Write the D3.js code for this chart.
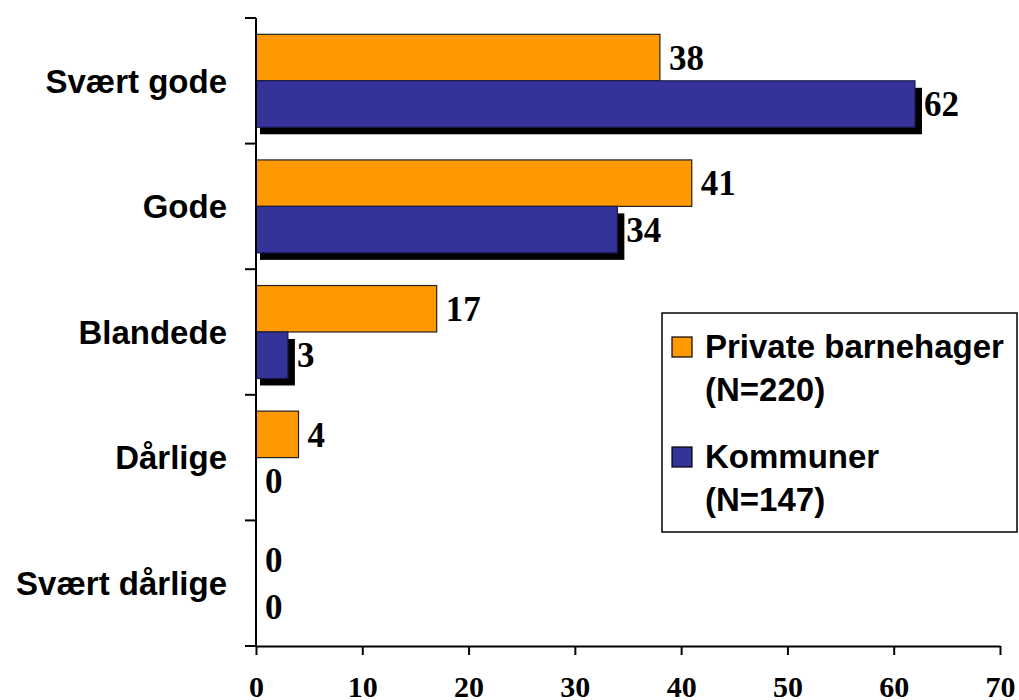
<!DOCTYPE html>
<html>
<head>
<meta charset="utf-8">
<script src="https://cdn.jsdelivr.net/npm/d3@7"></script>
<style>
  body { margin: 0; background: #fff; }
  svg { display: block; }
</style>
</head>
<body>
<div id="chart"></div>
<script>
var categories = ["Svært gode", "Gode", "Blandede", "Dårlige", "Svært dårlige"];
var seriesNames = ["Private barnehager", "Kommuner"];
var seriesN = ["(N=220)", "(N=147)"];
var privateValues = [38, 41, 17, 4, 0];
var kommuneValues = [62, 34, 3, 0, 0];
var xTicks = [0, 10, 20, 30, 40, 50, 60, 70];

var colors = ["#ff9900", "#333399"];
var strokes = ["#222222", "#1a1a4d"];

var svg = d3.select("#chart").append("svg")
			.attr("width", 1019)
			.attr("height", 700);

var x = d3.scaleLinear()
			.domain([0, 70])
			.range([256, 1000]);

var y = d3.scaleBand()
			.domain(categories)
			.range([18, 646])
			.paddingInner(0.26)
			.paddingOuter(0.13);

var ySub = d3.scaleBand()
			.domain([0, 1])
			.range([0, y.bandwidth()]);

var rows = categories.map(function(c, i){
	return { cat: c, values: [privateValues[i], kommuneValues[i]] };
});

// bars
var groups = svg.selectAll("g.row")
			.data(rows)
			.enter().append("g")
			.attr("class", "row")
			.attr("transform", function(d){ return "translate(0," + y(d.cat) + ")"; });

// shadow only on the blue series
groups.filter(function(d){ return d.values[1] > 0; })
	.append("rect")
	.attr("x", x(0) + 4)
	.attr("y", ySub(1) + 7)
	.attr("width", function(d){ return x(d.values[1]) - x(0) + 3; })
	.attr("height", ySub.bandwidth())
	.attr("fill", "#000");

groups.each(function(d){
	var g = d3.select(this);
	d.values.forEach(function(v, s){
		if (v > 0) {
			g.append("rect")
				.attr("x", x(0))
				.attr("y", ySub(s))
				.attr("width", x(v) - x(0))
				.attr("height", ySub.bandwidth())
				.attr("fill", colors[s])
				.attr("stroke", strokes[s])
				.attr("stroke-width", 1.2);
		}
		g.append("text")
			.attr("x", x(v) + 9)
			.attr("y", ySub(s) + ySub.bandwidth() / 2)
			.attr("dy", "0.35em")
			.attr("font-family", "'Liberation Serif', 'Times New Roman', serif")
			.attr("font-weight", "bold")
			.attr("font-size", 35)
			.attr("fill", "#000")
			.text(v);
	});
});

// y axis
svg.append("line")
	.attr("x1", x(0)).attr("x2", x(0))
	.attr("y1", 18).attr("y2", 646)
	.attr("stroke", "#000").attr("stroke-width", 2);

var bounds = categories.map(function(c){ return y(c) - y.step() * y.paddingInner() / 2; });
bounds.push(646);
svg.selectAll("line.ytick")
	.data(bounds)
	.enter().append("line")
	.attr("class", "ytick")
	.attr("x1", x(0) - 11).attr("x2", x(0))
	.attr("y1", function(d){ return d; })
	.attr("y2", function(d){ return d; })
	.attr("stroke", "#000").attr("stroke-width", 2);

svg.selectAll("text.ylab")
	.data(categories)
	.enter().append("text")
	.attr("class", "ylab")
	.attr("x", 227)
	.attr("y", function(d){ return y(d) + y.bandwidth() / 2; })
	.attr("dy", "0.36em")
	.attr("text-anchor", "end")
	.attr("font-family", "'Liberation Sans', Arial, sans-serif")
	.attr("font-weight", "bold")
	.attr("font-size", 33)
	.attr("fill", "#000")
	.text(function(d){ return d; });

// x axis
var xAxis = svg.append("g")
	.attr("transform", "translate(0,646)")
	.call(d3.axisBottom(x).tickValues(xTicks).tickSize(9).tickPadding(21).tickSizeOuter(0));
xAxis.select(".domain").attr("stroke", "#000").attr("stroke-width", 2);
xAxis.selectAll(".tick line").attr("stroke", "#000").attr("stroke-width", 2);
xAxis.selectAll(".tick text")
	.attr("font-family", "'Liberation Serif', 'Times New Roman', serif")
	.attr("font-weight", "bold")
	.attr("font-size", 30)
	.attr("fill", "#000");

// legend
var legend = svg.append("g");
legend.append("rect")
	.attr("x", 662).attr("y", 313)
	.attr("width", 355).attr("height", 219)
	.attr("fill", "#fff")
	.attr("stroke", "#000").attr("stroke-width", 1.5);

var legendTop = [358, 468];
seriesNames.forEach(function(name, s){
	legend.append("rect")
		.attr("x", 672).attr("y", legendTop[s] - 21)
		.attr("width", 20).attr("height", 20)
		.attr("fill", colors[s])
		.attr("stroke", "#000").attr("stroke-width", 1.2);
	var t = legend.append("text")
		.attr("font-family", "'Liberation Sans', Arial, sans-serif")
		.attr("font-weight", "bold")
		.attr("font-size", 33)
		.attr("fill", "#000");
	t.append("tspan").attr("x", 705).attr("y", legendTop[s]).text(name);
	t.append("tspan").attr("x", 705).attr("y", legendTop[s] + 43).text(seriesN[s]);
});
</script>
</body>
</html>
